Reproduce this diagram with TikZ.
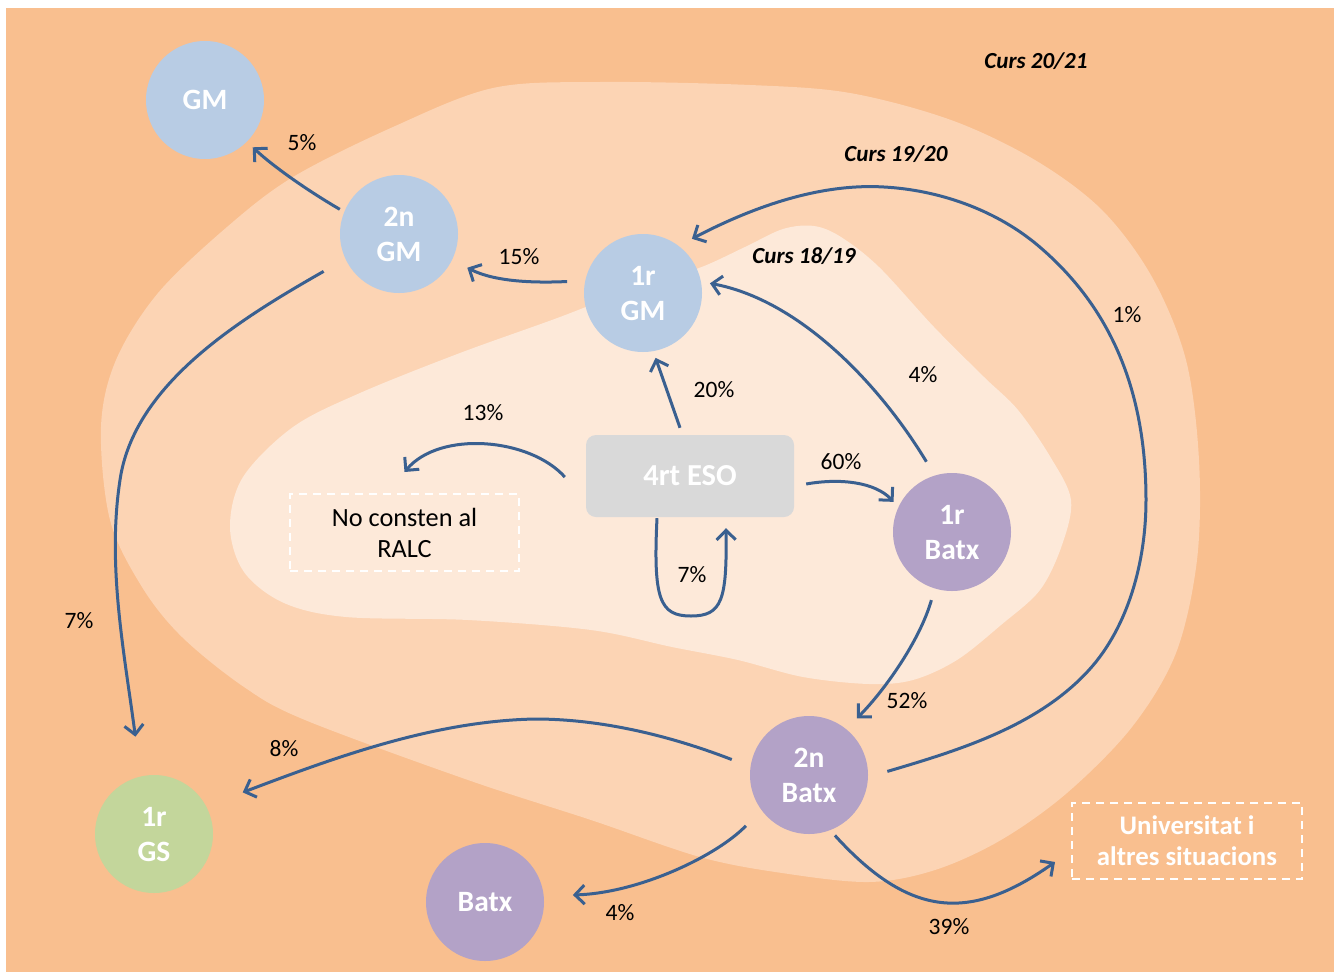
\documentclass[tikz,border=0pt]{standalone}
\usepackage{fontspec}
\setmainfont{Carlito}
\usetikzlibrary{arrows.meta}
\definecolor{outerc}{HTML}{F9BF8F}
\definecolor{midc}{HTML}{FCD4B4}
\definecolor{innc}{HTML}{FDE9D9}
\definecolor{cblue}{HTML}{B8CCE4}
\definecolor{cpurple}{HTML}{B3A2C7}
\definecolor{cgreen}{HTML}{C3D69B}
\definecolor{cgray}{HTML}{D9D9D9}
\definecolor{arrc}{HTML}{3A6090}
\tikzset{
  circ/.style={circle, minimum size=118pt, inner sep=0pt, text=white, align=center,
    font=\fontsize{29.5}{35}\selectfont\bfseries, text depth=-3pt},
  arr/.style={draw=arrc, line width=3pt, -{Straight Barb[length=9.5pt,width=19pt]}},
  lab/.style={font=\fontsize{23.5}{27}\selectfont, text=black},
  curs/.style={font=\fontsize{23}{27}\selectfont\bfseries\itshape, text=black},
  dbox/.style={draw=white, line width=2pt, dash pattern=on 8pt off 6pt, inner sep=0pt, align=center}
}
\begin{document}
\begin{tikzpicture}[x=1pt,y=-1pt]
\useasboundingbox (0,0) rectangle (1334,972);
\fill[white] (0,0) rectangle (1334,972);
\fill[outerc] (6,8) rectangle (1334,972);
% middle region (Curs 19/20)
\fill[midc] plot[smooth cycle, tension=0.55] coordinates {
 (493,88) (600,82) (750,85) (850,93) (951,120) (1035,160) (1102,210) (1152,277)
 (1186,360) (1199,460) (1197,560) (1176,653) (1132,727) (1067,793) (1001,840)
 (935,870) (869,882) (782,873) (700,857) (591,820) (468,780) (305,720) (244,687)
 (182,637) (142,587) (110,520) (101,427) (116,360) (158,293) (227,227) (293,177) (393,127)};
% inner region (Curs 18/19)
\fill[innc] plot[smooth cycle, tension=0.55] coordinates {
 (230,527) (243,477) (293,427) (360,393) (460,353) (560,317) (642,285) (699,268)
 (745,247) (783,229) (814,226) (841,237) (879,267) (934,327) (984,377) (1018,410)
 (1051,458) (1071,500) (1062,545) (1040,590) (1001,625) (957,660) (913,680) (869,684)
 (803,677) (738,660) (672,647) (591,630) (468,620) (346,617) (284,603) (244,572)};

% nodes
\node[circ, fill=cblue] (gm) at (205,100) {GM};
\node[circ, fill=cblue] (gm2) at (399,234) {2n\\GM};
\node[circ, fill=cblue] (gm1) at (643,293) {1r\\GM};
\node[circ, fill=cpurple] (batx1) at (952,532) {1r\\Batx};
\node[circ, fill=cpurple] (batx2) at (809,775) {2n\\Batx};
\node[circ, fill=cpurple] (batx) at (485,902) {Batx};
\node[circ, fill=cgreen] (gs1) at (154,834) {1r\\GS};
\node[fill=cgray, rounded corners=10pt, minimum width=208pt, minimum height=82pt, inner sep=0pt,
  text=white, font=\fontsize{30.5}{35}\selectfont\bfseries] (eso) at (690,476) {4rt ESO};
\node[dbox, minimum width=229pt, minimum height=77pt, font=\fontsize{26.3}{31}\selectfont]
  (ralc) at (404.5,532.5) {No consten al\\RALC};
\node[dbox, minimum width=230pt, minimum height=76pt, text=white, font=\fontsize{26.8}{31}\selectfont\bfseries]
  (univ) at (1187,841) {Universitat i\\altres situacions};

% labels
\node[curs] (c2021) at (1036,61) {Curs 20/21};
\node[curs] (c1920) at (896,154) {Curs 19/20};
\node[curs] (c1819) at (804,256) {Curs 18/19};
\node[lab] (l5) at (302,143) {5\%};
\node[lab] (l15) at (519,257) {15\%};
\node[lab] (l13) at (483,413) {13\%};
\node[lab] (l20) at (714,390) {20\%};
\node[lab] (l4a) at (923,375) {4\%};
\node[lab] (l60) at (841,462) {60\%};
\node[lab] (l1) at (1127,315) {1\%};
\node[lab] (l7a) at (692,575) {7\%};
\node[lab] (l7b) at (79,621) {7\%};
\node[lab] (l52) at (907,701) {52\%};
\node[lab] (l8) at (284,749) {8\%};
\node[lab] (l4b) at (620,913) {4\%};
\node[lab] (l39) at (949,927) {39\%};

% connectors
\draw[arr, shorten <=5pt, shorten >=8pt] (gm2.158) .. controls (310,192) and (275,168) .. (gm.315.6);
\draw[arr, shorten <=18pt, shorten >=17pt] (gm1.168) .. controls (535,283) and (495,282) .. (gm2.334.4);
\draw[arr, shorten >=7pt] ([xshift=-10pt,yshift=7pt]eso.north) -- (gm1.280.5);
\draw[arr] ([xshift=-21pt,yshift=-1pt]eso.west) .. controls (530,438) and (440,430) .. ([yshift=21pt]ralc.north);
\draw[arr, shorten >=7pt] ([xshift=12pt,yshift=-8pt]eso.east) .. controls (840,478) and (875,482) .. (batx1.155.8);
\draw[arr] ([xshift=-33pt,yshift=-1pt]eso.south) .. controls (653,600) and (660,616) .. (691,616)
  .. controls (722,616) and (727,600) .. ([xshift=36pt,yshift=-11pt]eso.south);
\draw[arr, shorten <=16pt, shorten >=9pt] (batx1.107) .. controls (880,385) and (800,300) .. (gm1.11);
\draw[arr, shorten <=20pt, shorten >=15pt] (batx2.358) .. controls (960,750) and (1038,726) .. (1089,670)
  .. controls (1129,626) and (1146,560) .. (1146,500)
  .. controls (1146,397) and (1115,309) .. (1035,243)
  .. controls (993,209) and (938,190) .. (884,187)
  .. controls (817,183) and (749,209) .. (gm1.53.7);
\draw[arr, shorten <=12pt, shorten >=15pt] (batx1.253.6) .. controls (920,640) and (885,690) .. (batx2.51);
\draw[arr, shorten <=25pt, shorten >=40pt] (gm2.205.4) .. controls (240,319) and (134,384) .. (120,480)
  .. controls (107,565) and (124,651) .. (gs1.103.3);
\draw[arr, shorten <=20pt, shorten >=39pt] (batx2.172.7) .. controls (671,736) and (602,719) .. (535,719)
  .. controls (434,721) and (336,757) .. (gs1.28.7);
\draw[arr, shorten <=22pt, shorten >=29pt] (batx2.216.4) .. controls (718,855) and (640,893) .. (batx.6.6);
\draw[arr, shorten <=7pt] (batx2.291.2) .. controls (910,918) and (970,922) .. ([xshift=-16pt,yshift=-21pt]univ.west);
\end{tikzpicture}
\end{document}
